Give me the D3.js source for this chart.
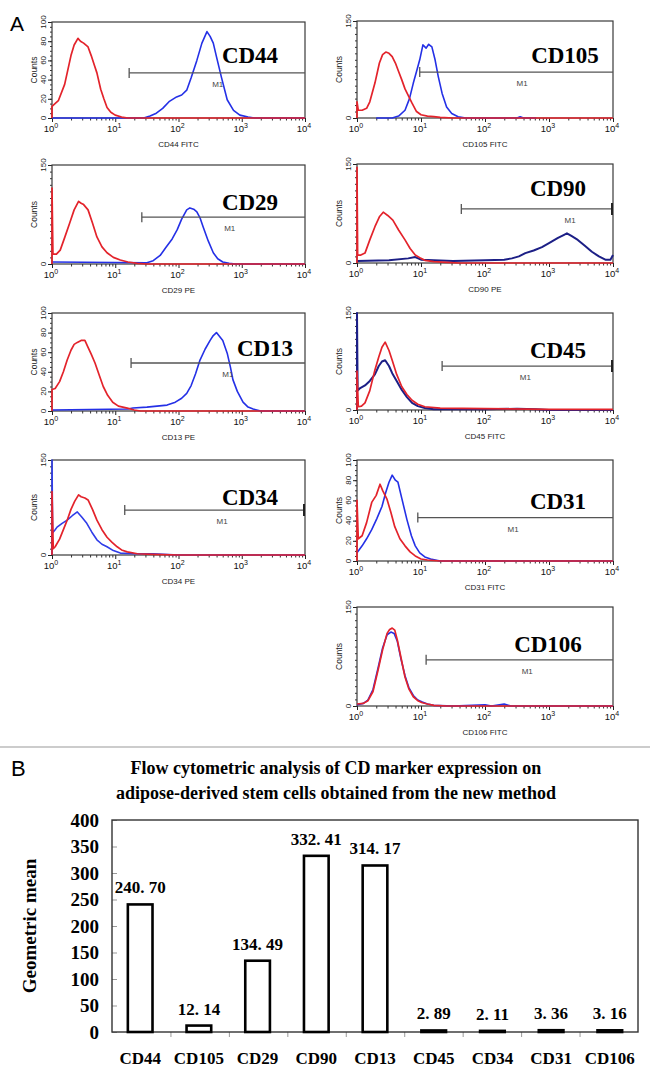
<!DOCTYPE html>
<html><head><meta charset="utf-8">
<script src="https://cdn.jsdelivr.net/npm/d3@7"></script>
<style>body{margin:0;background:#fff}</style>
</head><body><script>
// ---------------- DATA (panel A: flow cytometry histograms) ----------------
const markers = ["CD44","CD105","CD29","CD90","CD13","CD45","CD34","CD31","CD106"];
const channels = ["CD44 FITC","CD105 FITC","CD29 PE","CD90 PE","CD13 PE","CD45 FITC","CD34 PE","CD31 FITC","CD106 FITC"];
const countMax = [100,150,150,150,100,150,150,100,150];
const gateStartLog = [1.22,0.98,1.42,1.63,1.25,1.33,1.15,0.95,1.08];
const gateLevel = [47,71,71,82,49,68,71,43,70];
const gateEndCap = [false,false,false,true,false,true,true,false,false];
const m1Log = [2.62,2.58,2.81,3.33,2.78,2.63,2.69,2.44,2.66];
const xTickExp = [0,1,2,3,4];

// each curve: [log10 fluorescence, counts]
const cd44Red = [[0,0],[0,12],[0.1,18],[0.2,35],[0.24,47],[0.3,65],[0.35,76],[0.41,83],[0.45,80],[0.5,78],[0.57,74],[0.62,65],[0.67,55],[0.71,47],[0.77,30],[0.82,20],[0.87,11],[0.93,6],[1.0,3],[1.1,1],[1.2,0],[4,0]];
const cd44Blue = [[0,0],[1.45,0],[1.55,2],[1.65,5],[1.75,10],[1.85,17],[1.97,22],[2.05,24],[2.13,29],[2.2,42],[2.29,60],[2.37,78],[2.45,90],[2.5,85],[2.55,78],[2.6,64],[2.68,42],[2.77,19],[2.87,8],[2.97,3],[3.1,1],[3.2,0],[4,0]];
const cd105Red = [[0,0],[0,25],[0.02,12],[0.08,12],[0.15,15],[0.2,25],[0.28,54],[0.35,85],[0.4,98],[0.45,102],[0.5,100],[0.55,95],[0.6,85],[0.65,72],[0.7,59],[0.75,45],[0.8,35],[0.86,23],[0.93,10],[1.0,5],[1.1,3],[1.2,2],[1.3,1],[1.5,0],[4,0]];
const cd105Blue = [[0.3,0],[0.55,0],[0.65,3],[0.75,12],[0.82,30],[0.88,54],[0.93,72],[0.98,90],[1.03,113],[1.08,108],[1.12,114],[1.17,110],[1.22,90],[1.27,64],[1.33,38],[1.4,17],[1.48,7],[1.58,2],[1.7,0],[2.5,0],[2.55,2],[2.6,0],[2.8,0]];
const cd29Red = [[0,0],[0,115],[0.015,15],[0.07,15],[0.13,21],[0.2,40],[0.28,62],[0.35,82],[0.42,95],[0.46,92],[0.5,90],[0.57,82],[0.64,62],[0.71,41],[0.79,26],[0.87,17],[0.97,10],[1.08,6],[1.2,3],[1.35,1],[1.5,0],[4,0]];
const cd29Blue = [[0,3],[1.5,2],[1.6,5],[1.71,13],[1.8,25],[1.9,38],[1.98,52],[2.05,68],[2.13,82],[2.18,85],[2.24,83],[2.29,79],[2.34,70],[2.39,56],[2.47,35],[2.55,17],[2.62,8],[2.7,3],[2.8,1],[2.9,0],[4,0]];
const cd90Red = [[0,0],[0,145],[0.01,12],[0.06,12],[0.125,15],[0.2,35],[0.28,55],[0.35,70],[0.41,77],[0.48,72],[0.56,65],[0.65,50],[0.75,35],[0.83,22],[0.91,12],[1.0,7],[1.06,4],[1.2,2],[1.4,1],[1.6,0],[4,0]];
const cd90Blue = [[0,3],[0.5,4],[0.8,7],[0.91,9],[1.0,5],[1.5,3],[2.0,4],[2.3,5],[2.42,7],[2.53,10],[2.63,15],[2.76,19],[2.89,24],[3.0,30],[3.14,38],[3.22,42],[3.28,45],[3.35,41],[3.45,35],[3.56,26],[3.67,17],[3.78,10],[3.88,5],[3.96,5],[4.0,12]];
const cd13Red = [[0,0],[0,22],[0.05,23],[0.12,30],[0.18,40],[0.24,52],[0.3,62],[0.35,68],[0.4,70],[0.46,72],[0.52,72],[0.57,65],[0.62,58],[0.68,49],[0.75,36],[0.81,25],[0.88,16],[0.96,9],[1.05,5],[1.19,3],[1.3,1],[1.4,0],[4,0]];
const cd13Blue = [[0,1],[1.2,2],[1.28,3],[1.5,4],[1.82,6],[1.95,9],[2.05,13],[2.13,18],[2.2,26],[2.27,38],[2.34,52],[2.42,63],[2.5,72],[2.55,77],[2.6,80],[2.65,76],[2.7,72],[2.77,59],[2.82,45],[2.86,32],[2.93,20],[3.02,9],[3.1,4],[3.18,2],[3.3,0],[4,0]];
const cd45Red = [[0,0],[0,60],[0.02,5],[0.07,6],[0.125,11],[0.2,30],[0.28,62],[0.34,82],[0.39,97],[0.44,105],[0.5,92],[0.55,77],[0.62,55],[0.7,36],[0.78,24],[0.86,15],[0.95,9],[1.06,5],[1.3,3],[2.0,2],[3.0,1],[4.0,1]];
const cd45Blue = [[0,0],[0,150],[0.01,30],[0.05,34],[0.125,38],[0.2,45],[0.28,55],[0.34,68],[0.39,75],[0.44,77],[0.5,68],[0.55,57],[0.62,45],[0.7,31],[0.78,20],[0.86,11],[0.95,6],[1.06,3],[1.2,1],[2.0,1],[2.5,2],[2.8,1],[3.0,0],[4,0]];
const cd34Red = [[0,0],[0,100],[0.02,10],[0.05,13],[0.12,25],[0.18,40],[0.24,55],[0.3,72],[0.36,85],[0.42,95],[0.46,92],[0.52,90],[0.57,87],[0.64,72],[0.71,55],[0.79,40],[0.87,28],[0.95,20],[1.03,13],[1.1,8],[1.19,5],[1.35,2],[1.6,1],[2,0],[4,0]];
const cd34Blue = [[0,0],[0,150],[0.01,35],[0.05,40],[0.08,44],[0.16,50],[0.24,55],[0.32,62],[0.4,68],[0.47,60],[0.55,50],[0.63,36],[0.71,24],[0.79,17],[0.87,13],[0.97,7],[1.08,3],[1.3,2],[1.6,2],[2,0],[4,0]];
const cd31Red = [[0,0],[0,60],[0.02,22],[0.08,25],[0.15,38],[0.23,58],[0.3,65],[0.36,76],[0.4,70],[0.47,61],[0.53,48],[0.59,34],[0.67,22],[0.75,15],[0.83,9],[0.91,5],[1.0,2],[1.1,1],[1.3,0],[4,0]];
const cd31Blue = [[0,8],[0.02,10],[0.08,15],[0.15,22],[0.23,31],[0.31,42],[0.39,54],[0.45,68],[0.5,78],[0.55,85],[0.6,80],[0.64,78],[0.7,62],[0.78,41],[0.85,25],[0.91,15],[0.98,8],[1.06,4],[1.15,2],[1.3,0],[4,0]];
const cd106Red = [[0,3],[0.1,4],[0.17,8],[0.25,22],[0.33,55],[0.4,85],[0.47,110],[0.51,116],[0.55,118],[0.59,115],[0.63,100],[0.69,72],[0.75,44],[0.81,26],[0.88,14],[0.95,8],[1.02,5],[1.1,3],[1.2,1],[1.4,0],[4,0]];
const cd106Blue = [[0,2],[0.1,4],[0.17,9],[0.25,25],[0.33,58],[0.4,88],[0.47,108],[0.53,112],[0.58,110],[0.63,98],[0.69,70],[0.75,46],[0.81,28],[0.88,16],[0.95,9],[1.02,6],[1.1,3],[1.2,1],[1.5,0],[2.0,2],[2.1,0],[2.3,3],[2.4,0],[4,0]];
const redCurves = [cd44Red,cd105Red,cd29Red,cd90Red,cd13Red,cd45Red,cd34Red,cd31Red,cd106Red];
const blueCurves = [cd44Blue,cd105Blue,cd29Blue,cd90Blue,cd13Blue,cd45Blue,cd34Blue,cd31Blue,cd106Blue];

// ---------------- DATA (panel B: bar chart) ----------------
const barCategories = ["CD44","CD105","CD29","CD90","CD13","CD45","CD34","CD31","CD106"];
const barValues = [240.70,12.14,134.49,332.41,314.17,2.89,2.11,3.36,3.16];
const barYTicks = [0,50,100,150,200,250,300,350,400];
const barTitleLines = ["Flow cytometric analysis of CD marker expression on","adipose-derived stem cells obtained from the new method"];
const barYTitle = "Geometric mean";

// ---------------- LAYOUT ----------------
const W = 650, H = 1078;
const panelBoxes = [[52,22,305,118],[357,21,613,118],[52,165,305,264],[357,164,613,263],[52,313,305,411],[357,313,613,410],[52,460,305,555],[357,460,613,561],[357,607,613,706]];
const labelPos = [[250,55],[565,55],[250,202],[558,188],[265,348],[558,350],[250,497],[558,501],[548,644]];
const blueColor = ["#2430e6","#2430e6","#2430e6","#1c1f86","#2430e6","#1c1f86","#2f3ce8","#2430e6","#2430e6"];
const redColor = "#e3232b";

const svg = d3.select("body").append("svg").attr("width", W).attr("height", H)
  .style("font-family", "'Liberation Sans', Arial, sans-serif");

svg.append("text").attr("x", 10).attr("y", 31).attr("font-size", 21).text("A");

markers.forEach((m, i) => {
  const [x0, y0, x1, y1] = panelBoxes[i];
  const g = svg.append("g");
  const x = d3.scaleLog().domain([1, 1e4]).range([x0, x1]);
  const y = d3.scaleLinear().domain([0, countMax[i]]).range([y1, y0]);

  const minor = [];
  for (let e = 0; e < 4; e++) for (let k = 2; k <= 9; k++) minor.push(k * Math.pow(10, e));
  g.append("g").attr("transform", `translate(0,${y1})`)
    .call(d3.axisBottom(x).tickValues(minor).tickSize(2.5).tickFormat(""))
    .call(a => a.select(".domain").remove())
    .selectAll("line").attr("stroke", "#333");
  g.append("g").attr("transform", `translate(0,${y1})`)
    .call(d3.axisBottom(x).tickValues(xTickExp.map(e => Math.pow(10, e))).tickSize(4).tickFormat(""))
    .call(a => a.select(".domain").remove())
    .selectAll("line").attr("stroke", "#222");
  xTickExp.forEach(e => {
    const t = g.append("text").attr("x", x(Math.pow(10, e)) - 1).attr("y", y1 + 14)
      .attr("text-anchor", "middle").attr("font-size", 9.5).attr("fill", "#111");
    t.append("tspan").text("10");
    t.append("tspan").attr("dy", -4).attr("font-size", 7).text(e);
  });
  g.append("text").attr("x", (x0 + x1) / 2).attr("y", y1 + 29).attr("text-anchor", "middle")
    .attr("font-size", 8).attr("fill", "#222").text(channels[i]);

  const maxC = countMax[i];
  const yMajor = maxC === 100 ? [0, 20, 40, 60, 80, 100] : [0, 150];
  const yMinor = d3.range(0, maxC + 0.1, maxC === 100 ? 5 : 10);
  g.append("g").attr("transform", `translate(${x0},0)`)
    .call(d3.axisLeft(y).tickValues(yMinor).tickSize(2).tickFormat(""))
    .call(a => a.select(".domain").remove())
    .selectAll("line").attr("stroke", "#333");
  g.append("g").attr("transform", `translate(${x0},0)`)
    .call(d3.axisLeft(y).tickValues(yMajor).tickSize(4).tickFormat(""))
    .call(a => a.select(".domain").remove())
    .selectAll("line").attr("stroke", "#222");
  yMajor.forEach(v => {
    g.append("text").attr("transform", `translate(${x0 - 6},${y(v)}) rotate(-90)`)
      .attr("text-anchor", "middle").attr("font-size", 8).attr("fill", "#222").text(v);
  });
  g.append("text").attr("transform", `translate(${x0 - 15},${(y0 + y1) / 2}) rotate(-90)`)
    .attr("text-anchor", "middle").attr("font-size", 8.5).attr("fill", "#222").text("Counts");

  g.append("rect").attr("x", x0).attr("y", y0).attr("width", x1 - x0).attr("height", y1 - y0)
    .attr("fill", "none").attr("stroke", "#3a3a3a").attr("stroke-width", 1.2);

  const line = d3.line().x(d => x(Math.pow(10, d[0]))).y(d => y(d[1]));
  g.append("path").datum(blueCurves[i]).attr("d", line).attr("fill", "none")
    .attr("stroke", blueColor[i]).attr("stroke-width", (i === 3 || i === 5) ? 2 : 1.6).attr("stroke-linejoin", "round");
  g.append("path").datum(redCurves[i]).attr("d", line).attr("fill", "none")
    .attr("stroke", redColor).attr("stroke-width", 1.7).attr("stroke-linejoin", "round");

  const gx0 = x(Math.pow(10, gateStartLog[i]));
  const gx1 = gateEndCap[i] ? x1 - 1 : x1;
  const gy = y(gateLevel[i]);
  g.append("line").attr("x1", gx0).attr("x2", gx1).attr("y1", gy).attr("y2", gy)
    .attr("stroke", "#555").attr("stroke-width", 1.3);
  g.append("line").attr("x1", gx0).attr("x2", gx0).attr("y1", gy - 5).attr("y2", gy + 5)
    .attr("stroke", "#555").attr("stroke-width", 1.3);
  if (gateEndCap[i]) {
    g.append("line").attr("x1", gx1).attr("x2", gx1).attr("y1", gy - 6).attr("y2", gy + 6)
      .attr("stroke", "#222").attr("stroke-width", 2);
  }
  g.append("text").attr("x", x(Math.pow(10, m1Log[i]))).attr("y", gy + 14).attr("text-anchor", "middle")
    .attr("font-size", 8).attr("fill", "#444").text("M1");

  g.append("text").attr("x", labelPos[i][0]).attr("y", labelPos[i][1] + 8).attr("text-anchor", "middle")
    .attr("font-family", "'Liberation Serif', 'Times New Roman', serif").attr("font-weight", "bold")
    .attr("font-size", 23).attr("fill", "#000").text(m);
});

svg.append("line").attr("x1", 0).attr("x2", W).attr("y1", 747).attr("y2", 747)
  .attr("stroke", "#9a9a9a").attr("stroke-width", 1.2);

// ---------------- PANEL B ----------------
svg.append("text").attr("x", 11).attr("y", 776).attr("font-size", 22).text("B");
const serif = "'Liberation Serif', 'Times New Roman', serif";
barTitleLines.forEach((t, k) => {
  svg.append("text").attr("x", 336).attr("y", 774 + k * 25).attr("text-anchor", "middle")
    .attr("font-family", serif).attr("font-weight", "bold").attr("font-size", 18).text(t);
});

const bx0 = 112, bx1 = 638, by0 = 820, by1 = 1032;
const yb = d3.scaleLinear().domain([0, 400]).range([by1, by0]);
const xb = d3.scaleBand().domain(barCategories).range([bx0, bx1]).paddingInner(0.58).paddingOuter(0.27);

const gb = svg.append("g").attr("font-family", serif).attr("font-weight", "bold");
gb.append("g").attr("transform", `translate(${bx0},0)`)
  .call(d3.axisRight(yb).tickValues(barYTicks).tickSize(5).tickFormat(""))
  .call(a => a.select(".domain").remove())
  .selectAll("line").attr("stroke", "#999");
barYTicks.forEach(v => {
  gb.append("text").attr("x", 99).attr("y", yb(v) + 6.5).attr("text-anchor", "end")
    .attr("font-size", 19).text(v);
});
gb.append("g").attr("transform", `translate(0,${by1})`)
  .call(d3.axisBottom(d3.scaleLinear().domain([0, barCategories.length]).range([bx0, bx1]))
    .tickValues(d3.range(1, barCategories.length)).tickSize(5).tickFormat(""))
  .call(a => a.select(".domain").remove())
  .selectAll("line").attr("stroke", "#999");
gb.append("rect").attr("x", bx0).attr("y", by0).attr("width", bx1 - bx0).attr("height", by1 - by0)
  .attr("fill", "none").attr("stroke", "#333").attr("stroke-width", 1.4);
gb.selectAll("rect.bar").data(barCategories).join("rect").attr("class", "bar")
  .attr("x", d => xb(d)).attr("width", xb.bandwidth())
  .attr("y", (d, i) => yb(barValues[i])).attr("height", (d, i) => by1 - yb(barValues[i]))
  .attr("fill", "#fff").attr("stroke", "#000").attr("stroke-width", 2.6);
gb.selectAll("text.val").data(barCategories).join("text").attr("class", "val")
  .attr("x", d => xb(d) + xb.bandwidth() / 2).attr("y", (d, i) => yb(barValues[i]) - 11)
  .attr("text-anchor", "middle").attr("font-size", 17)
  .text((d, i) => barValues[i].toFixed(2).replace(".", ". "));
gb.selectAll("text.cat").data(barCategories).join("text").attr("class", "cat")
  .attr("x", d => xb(d) + xb.bandwidth() / 2).attr("y", 1064)
  .attr("text-anchor", "middle").attr("font-size", 17).text(d => d);
gb.append("text").attr("transform", `translate(36,${(by0 + by1) / 2}) rotate(-90)`)
  .attr("text-anchor", "middle").attr("font-size", 19).text(barYTitle);
</script></body></html>
